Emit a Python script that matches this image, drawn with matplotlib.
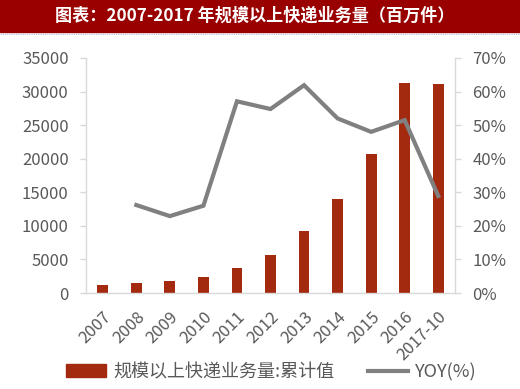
import matplotlib
matplotlib.use("Agg")
import matplotlib.pyplot as plt
from matplotlib.lines import Line2D
from matplotlib.patches import Patch
import numpy as np

plt.rcParams['font.family'] = ['Noto Sans CJK SC', 'DejaVu Sans']

categories = ['2007', '2008', '2009', '2010', '2011', '2012', '2013', '2014', '2015', '2016', '2017-10']
volume = [1200, 1510, 1860, 2340, 3670, 5690, 9190, 13960, 20670, 31280, 31150]
yoy = [np.nan, 26.2, 22.9, 26.0, 57.1, 54.8, 61.9, 52.0, 48.0, 51.5, 28.9]
left_ticks = [0, 5000, 10000, 15000, 20000, 25000, 30000, 35000]
right_ticks = [0, 10, 20, 30, 40, 50, 60, 70]

title = '图表：2007-2017 年规模以上快递业务量（百万件）'
bar_label = '规模以上快递业务量:累计值'
line_label = 'YOY(%)'

bar_color = '#A3290F'
line_color = '#808080'
text_color = '#595959'
spine_color = '#D9D9D9'

fig = plt.figure(figsize=(5.2, 3.89), dpi=100)
# title banner
fig.patches.append(plt.Rectangle((0, 1 - 32/389), 1, 32/389, transform=fig.transFigure,
                                 color='#990000', zorder=0))
fig.lines.append(Line2D([0, 1], [1 - 33.5/389]*2, transform=fig.transFigure,
                        color='#B8C4DC', lw=0.8, ls=(0, (1, 1))))
fig.text(0.49, 1 - 16/389, title, color='white', fontsize=12.3, fontweight='bold',
         ha='center', va='center')

ax = fig.add_axes([86/520, 1 - 293/389, (455 - 86)/520, (293 - 58)/389])
x = np.arange(len(categories))
ax.bar(x, volume, width=0.32, color=bar_color, zorder=2)
ax.set_xlim(-0.5, len(categories) - 0.5)
ax.set_ylim(0, 35000)
ax.set_yticks(left_ticks)
ax.set_yticklabels([str(v) for v in left_ticks])
ax.set_xticks(x)
ax.set_xticklabels(categories, rotation=45, ha='right', rotation_mode='anchor')

ax2 = ax.twinx()
ax2.plot(x, yoy, color=line_color, lw=3, zorder=3, solid_joinstyle='miter')
ax2.set_ylim(0, 70)
ax2.set_yticks(right_ticks)
ax2.set_yticklabels([f'{v}%' for v in right_ticks])

for a in (ax, ax2):
    for s in ('top',):
        a.spines[s].set_visible(False)
    for s in ('left', 'right', 'bottom'):
        a.spines[s].set_color(spine_color)
        a.spines[s].set_linewidth(1)
    a.tick_params(axis='both', colors=spine_color, labelcolor=text_color,
                  labelsize=12, length=4.5, width=1, pad=8)
ax.tick_params(axis='x', length=0, pad=11)
ax.spines['right'].set_visible(False)
ax2.spines['left'].set_visible(False)
ax2.spines['bottom'].set_visible(False)

handles = [Patch(color=bar_color), Line2D([0], [0], color=line_color, lw=3)]
fig.legend(handles, [bar_label, line_label], loc='center', bbox_to_anchor=(0.522, 1 - 372/389),
           ncol=2, frameon=False, fontsize=13, labelcolor=text_color,
           handlelength=2.2, handleheight=0.7, columnspacing=1.9, handletextpad=0.4)

fig.savefig('out.png', dpi=100)
